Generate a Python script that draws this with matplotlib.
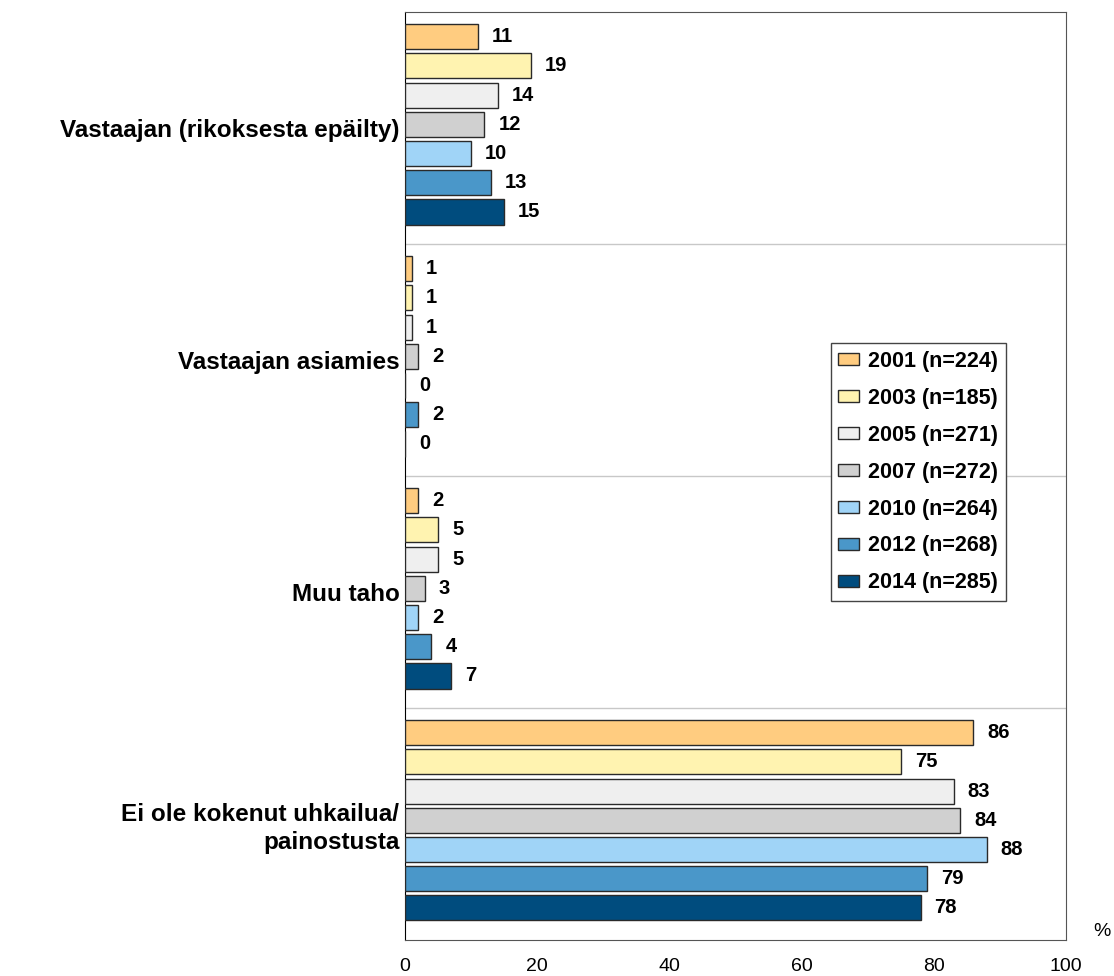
import matplotlib
matplotlib.use("Agg")
import matplotlib.pyplot as plt
import numpy as np

plt.rcParams['font.family'] = ['Liberation Sans', 'DejaVu Sans']

categories = ["Vastaajan (rikoksesta epäilty)", "Vastaajan asiamies", "Muu taho",
              "Ei ole kokenut uhkailua/\npainostusta"]
series_labels = ["2001 (n=224)", "2003 (n=185)", "2005 (n=271)", "2007 (n=272)",
                 "2010 (n=264)", "2012 (n=268)", "2014 (n=285)"]
v2001 = [11, 1, 2, 86]
v2003 = [19, 1, 5, 75]
v2005 = [14, 1, 5, 83]
v2007 = [12, 2, 3, 84]
v2010 = [10, 0, 2, 88]
v2012 = [13, 2, 4, 79]
v2014 = [15, 0, 7, 78]
series = [v2001, v2003, v2005, v2007, v2010, v2012, v2014]
colors = ["#FFCC80", "#FFF3B0", "#EFEFEF", "#D0D0D0", "#A0D4F7", "#4A97C9", "#004C7E"]
xticks = [0, 20, 40, 60, 80, 100]

fig = plt.figure(figsize=(11.14, 9.76), dpi=100)
ax = fig.add_axes([0.3636, 0.0369, 0.5933, 0.9508])

pitch = 0.126
height = 0.108
n = len(series)
ycent = np.arange(len(categories))
for j, (vals, col, lab) in enumerate(zip(series, colors, series_labels)):
    ys = ycent + (j - (n - 1) / 2) * pitch - 0.016
    ax.barh(ys, vals, height=height, color=col, edgecolor="#2a2a2a",
            linewidth=1.0, label=lab, zorder=3)
    for y, v in zip(ys, vals):
        ax.annotate(f"{v}", (v, y), xytext=(10, 0), textcoords="offset points",
                    va="center", ha="left", fontsize=14.5, fontweight="bold", zorder=4)

ax.set_xlim(0, 100)
ax.set_ylim(len(categories) - 0.5, -0.5)
ax.set_xticks(xticks)
ax.set_xticklabels([str(t) for t in xticks], fontsize=14)
ax.set_yticks(ycent)
ax.set_yticklabels(categories, fontsize=17.5, fontweight="bold", ha="right",
                   linespacing=1.25)
ax.tick_params(axis="both", length=0)
ax.tick_params(axis="x", pad=13)
ax.tick_params(axis="y", pad=4)
ax.set_xticks([20, 40, 60, 80], minor=True)
ax.set_yticks(np.arange(0.5, len(categories) - 0.5, 1.0), minor=True)
ax.tick_params(which="minor", length=0)
ax.grid(True, which="minor", color="#C8C8C8", linewidth=1.0, zorder=0)
ax.grid(False, which="major")
for s in ["top", "right", "bottom"]:
    ax.spines[s].set_color("#555555")
ax.spines["left"].set_color("#000000")

leg = ax.legend(loc="upper left", bbox_to_anchor=(0.644, 0.643), frameon=True,
                fancybox=False, edgecolor="#444444", framealpha=1,
                prop={"weight": "bold", "size": 15.5}, handlelength=0.95,
                handleheight=0.5, handletextpad=0.45, labelspacing=0.74,
                borderpad=0.35, borderaxespad=0)
leg.get_frame().set_linewidth(1.0)

fig.text(1102 / 1114, 1 - 932 / 976, "%", fontsize=14, ha="center", va="center")

fig.savefig("out.png", dpi=100)
